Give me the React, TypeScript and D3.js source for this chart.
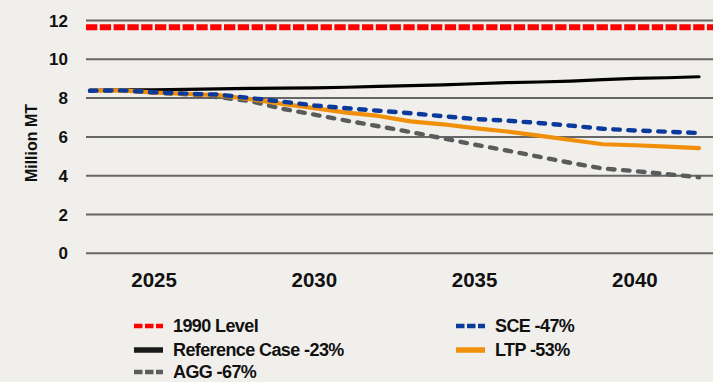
import React from "react";
import * as d3 from "d3";

// Annual emissions projections, million metric tons
const years = [2023, 2024, 2025, 2026, 2027, 2028, 2029, 2030, 2031, 2032, 2033, 2034, 2035, 2036, 2037, 2038, 2039, 2040, 2041, 2042];
const referenceCase = [8.4, 8.42, 8.43, 8.45, 8.48, 8.5, 8.51, 8.53, 8.56, 8.6, 8.64, 8.68, 8.74, 8.8, 8.83, 8.88, 8.95, 9.02, 9.05, 9.1];
const sce = [8.38, 8.4, 8.3, 8.23, 8.18, 8.0, 7.82, 7.62, 7.48, 7.35, 7.22, 7.07, 6.92, 6.84, 6.72, 6.58, 6.42, 6.33, 6.27, 6.2];
const ltp = [8.38, 8.4, 8.28, 8.22, 8.15, 7.95, 7.7, 7.48, 7.25, 7.08, 6.8, 6.65, 6.45, 6.28, 6.07, 5.84, 5.62, 5.57, 5.5, 5.42];
const agg = [8.38, 8.4, 8.28, 8.2, 8.05, 7.85, 7.45, 7.15, 6.84, 6.55, 6.25, 5.93, 5.6, 5.3, 4.98, 4.66, 4.37, 4.24, 4.08, 3.92];
const level1990 = 11.65;

const yTicks = [0, 2, 4, 6, 8, 10, 12];
const xTicks = [2025, 2030, 2035, 2040];

const W = 713;
const H = 382;
const FONT = "'Liberation Sans', Arial, sans-serif";

const plotLeft = 86;
const plotRight = 713;

const x = d3.scaleLinear().domain([2023, 2042]).range([90, 699]);
const y = d3.scaleLinear().domain([0, 12]).range([253.3, 20.5]);

type Series = {
  name: string;
  values: number[];
  color: string;
  width: number;
  dash?: string;
  cap: "round" | "butt";
};

const series: Series[] = [
  { name: "Reference Case -23%", values: referenceCase, color: "#000000", width: 3.2, cap: "round" },
  { name: "AGG -67%", values: agg, color: "#595c5c", width: 4.4, dash: "6.5 8.5", cap: "round" },
  { name: "LTP -53%", values: ltp, color: "#f0900a", width: 4.2, cap: "round" },
  { name: "SCE -47%", values: sce, color: "#0a3a9c", width: 4.4, dash: "6.5 8.5", cap: "round" },
];

type LegendItem = { label: string; color: string; width: number; dash?: string; col: number; row: number };

const legendItems: LegendItem[] = [
  { label: "1990 Level", color: "#ff0000", width: 4.5, dash: "8.5 2.5", col: 0, row: 0 },
  { label: "Reference Case -23%", color: "#1a1a1a", width: 5.5, col: 0, row: 1 },
  { label: "AGG -67%", color: "#5a5d5d", width: 4.5, dash: "8.5 2.5", col: 0, row: 2 },
  { label: "SCE -47%", color: "#0a3a9c", width: 4.5, dash: "8.5 2.5", col: 1, row: 0 },
  { label: "LTP -53%", color: "#f0900a", width: 5.5, col: 1, row: 1 },
];

const legendColX = [134, 456];
const legendRowY = [326, 350, 372];

export default function App() {
  const line = d3
    .line<number>()
    .x((_, i) => x(years[i]))
    .y((v) => y(v));

  return (
    <svg
      width={W}
      height={H}
      style={{ position: "fixed", left: 0, top: 0, display: "block", background: "#f1efeb" }}
    >
      <rect x={0} y={0} width={W} height={H} fill="#f1efeb" />

      {/* horizontal gridlines and y labels */}
      {yTicks.map((t) => (
        <g key={t}>
          <line x1={plotLeft} x2={plotRight} y1={y(t)} y2={y(t)} stroke="#666666" strokeWidth={2} />
          <text
            x={68}
            y={y(t)}
            dy="0.36em"
            textAnchor="end"
            fontFamily={FONT}
            fontWeight={700}
            fontSize={17}
            fill="#111"
          >
            {t}
          </text>
        </g>
      ))}

      {/* x labels */}
      {xTicks.map((t) => (
        <text
          key={t}
          x={x(t)}
          y={280}
          dy="0.36em"
          textAnchor="middle"
          fontFamily={FONT}
          fontWeight={700}
          fontSize={20.5}
          fill="#111"
        >
          {t}
        </text>
      ))}

      {/* axis title */}
      <text
        transform={`translate(31,143) rotate(-90)`}
        dy="0.36em"
        textAnchor="middle"
        fontFamily={FONT}
        fontWeight={700}
        fontSize={16}
        fill="#111"
      >
        Million MT
      </text>

      {/* 1990 reference level */}
      <line
        x1={plotLeft}
        x2={plotRight}
        y1={y(level1990)}
        y2={y(level1990)}
        stroke="#ff0000"
        strokeWidth={6}
        strokeDasharray="11.3 2.5"
      />

      {/* projection series */}
      {series.map((s) => (
        <path
          key={s.name}
          d={line(s.values) ?? ""}
          fill="none"
          stroke={s.color}
          strokeWidth={s.width}
          strokeDasharray={s.dash}
          strokeLinecap={s.cap}
          strokeLinejoin="round"
        />
      ))}

      {/* legend */}
      {legendItems.map((it) => {
        const lx = legendColX[it.col];
        const ly = legendRowY[it.row];
        return (
          <g key={it.label}>
            <line
              x1={lx}
              x2={lx + 29}
              y1={ly}
              y2={ly}
              stroke={it.color}
              strokeWidth={it.width}
              strokeDasharray={it.dash}
            />
            <text
              x={lx + 39}
              y={ly}
              dy="0.36em"
              fontFamily={FONT}
              fontWeight={700}
              fontSize={18}
              letterSpacing={-0.6}
              fill="#111"
            >
              {it.label}
            </text>
          </g>
        );
      })}
    </svg>
  );
}
